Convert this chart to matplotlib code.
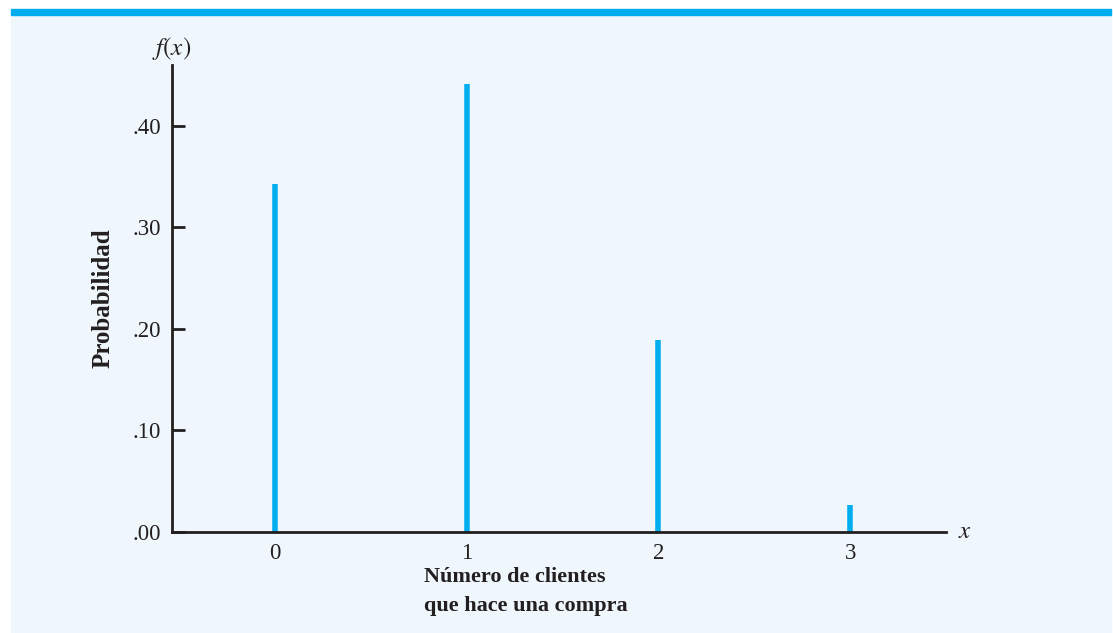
import numpy as np
import matplotlib.pyplot as plt
from matplotlib.patches import Rectangle

# data: probability of x customers making a purchase
x_vals = [0, 1, 2, 3]
probs = [0.343, 0.441, 0.189, 0.027]
ytick_vals = [0.0, 0.1, 0.2, 0.3, 0.4]
ytick_labels = ['.00', '.10', '.20', '.30', '.40']

plt.rcParams['font.family'] = ['Liberation Serif', 'DejaVu Serif']
W, H = 1113, 633
fig = plt.figure(figsize=(W / 100, H / 100), dpi=100)
fig.patch.set_facecolor('white')

# panel background and top strip (pixel coords converted to figure fractions)
fig.patches.append(Rectangle((11 / W, 0), (1111 - 11) / W, 1 - 15 / H,
                             transform=fig.transFigure, color='#eff7fd', zorder=-2))
fig.patches.append(Rectangle((11 / W, 1 - 15 / H), (1111 - 11) / W, 6 / H,
                             transform=fig.transFigure, color='#00aeef', zorder=-2))

ax = fig.add_axes([172 / W, 1 - 532 / H, (946 - 172) / W, (532 - 65) / H])
ax.patch.set_alpha(0)
ax.set_xlim(-0.537, 3.5)
ax.set_ylim(0, 0.46)

ax.vlines(x_vals, 0, probs, color='#00aeef', linewidth=4)

for s in ['top', 'right']:
    ax.spines[s].set_visible(False)
for s in ['left', 'bottom']:
    ax.spines[s].set_linewidth(2)
    ax.spines[s].set_color('#231f20')

ax.set_yticks(ytick_vals)
ax.set_yticklabels(ytick_labels, fontsize=16.5, color='#231f20')
ax.tick_params(axis='y', direction='in', length=9, width=2, color='#231f20', pad=8)
ax.set_xticks(x_vals)
ax.set_xticklabels([str(v) for v in x_vals], fontsize=16.5, color='#231f20')
ax.tick_params(axis='x', length=0, pad=8)

ax.set_ylabel('Probabilidad', fontsize=18, fontweight='bold', color='#231f20', labelpad=13)
fig.text(424 / W, 1 - 592 / H, 'Número de clientes\nque hace una compra',
         fontsize=16, fontweight='bold', color='#231f20', ha='left', va='center',
         linespacing=1.6)
fig.text(172 / W, 1 - 48 / H, '$f(x)$', fontsize=18, color='#231f20',
         ha='center', va='center', math_fontfamily='stix')
fig.text(965 / W, 1 - 532 / H, '$x$', fontsize=18, color='#231f20',
         ha='center', va='center', math_fontfamily='stix')

plt.savefig('out.png', dpi=100)
